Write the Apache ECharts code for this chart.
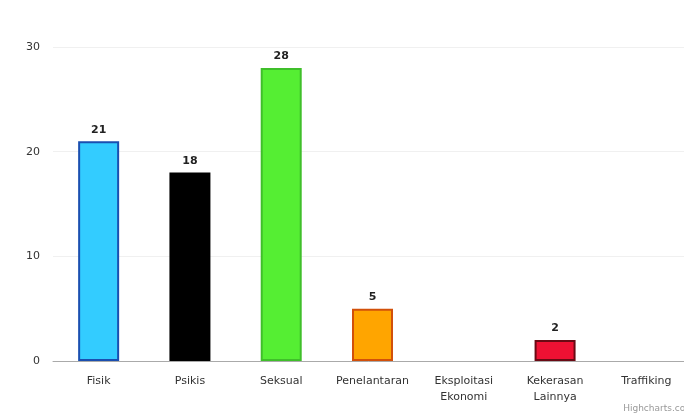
<!DOCTYPE html>
<html>
<head>
<meta charset="utf-8">
<script src="https://cdn.jsdelivr.net/npm/echarts@6/dist/echarts.min.js"></script>
<style>
    html, body {margin: 0; padding: 0; background: #fff;}
    #my_chart {width: 684px; height: 419px;}
</style>
</head>
<body>
<div id="my_chart"></div>
<script>
//x轴
var categories = ['Fisik', 'Psikis', 'Seksual', 'Penelantaran', 'Eksploitasi\nEkonomi', 'Kekerasan\nLainnya', 'Traffiking'];
//y轴
var values = [21, 18, 28, 5, 0, 2, 0];
var fillColors = ['#33ccff', '#000000', '#55ee33', '#ffa500', 'transparent', '#ee1133', 'transparent'];
var borderColors = ['#1a4fb0', '#000000', '#3fbf2a', '#d2500a', 'transparent', '#6a0a14', 'transparent'];

var barData = [];
for (var i = 0; i < values.length; i++) {
    barData.push({
        value: values[i],
        itemStyle: {color: fillColors[i], borderColor: borderColors[i], borderWidth: values[i] > 0 ? 2 : 0},
        label: {show: values[i] > 0}
    });
}

var myChart = echarts.init(document.getElementById('my_chart'));
var option = {
    animation: false,
    grid: {left: 53, width: 639, top: 47, height: 314, outerBoundsMode: 'none'},
    xAxis: [{
        type: 'category',
        data: categories,
        axisLine: {lineStyle: {color: '#aaaaaa'}},
        axisTick: {show: false},
        axisLabel: {color: '#333', fontSize: 11, fontFamily: 'DejaVu Sans', margin: 12, lineHeight: 16, interval: 0}
    }],
    yAxis: [{
        type: 'value',
        min: 0,
        max: 30,
        interval: 10,
        axisLine: {show: false},
        axisTick: {show: false},
        splitLine: {lineStyle: {color: '#f0f0f0'}},
        axisLabel: {color: '#333', fontSize: 11, fontFamily: 'DejaVu Sans', margin: 13}
    }],
    series: [{
        type: 'bar',
        barWidth: 41,
        data: barData,
        label: {
            position: 'top',
            distance: 6,
            color: '#222',
            fontWeight: 'bold',
            fontSize: 11,
            fontFamily: 'DejaVu Sans'
        }
    }],
    graphic: [{
        type: 'text',
        right: -10,
        top: 404,
        style: {text: 'Highcharts.com', fill: '#999', fontSize: 9, fontFamily: 'DejaVu Sans'}
    }]
};
myChart.setOption(option);
</script>
</body>
</html>
